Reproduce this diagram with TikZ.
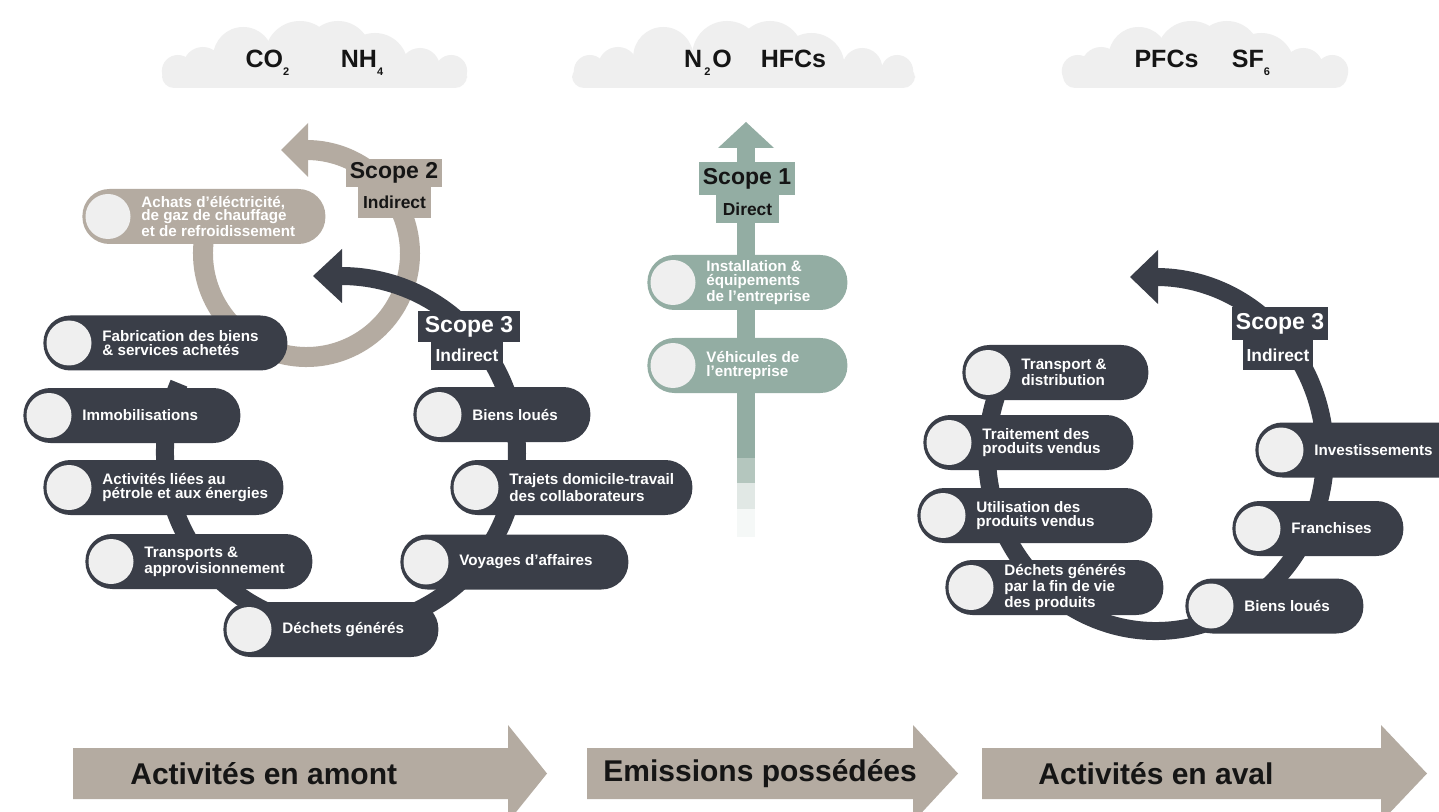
\documentclass[tikz,border=0pt]{standalone}
\usepackage{fontspec}
\setmainfont{Liberation Sans}
\usetikzlibrary{calc}
\definecolor{dk}{HTML}{3A3E48}
\definecolor{bg}{HTML}{B4ABA1}
\definecolor{gr}{HTML}{93ADA3}
\definecolor{lt}{HTML}{EFEFEF}
\definecolor{cl}{HTML}{EFEFEF}
\definecolor{ink}{HTML}{151515}
\newcommand\subs[1]{\raisebox{-4pt}{\fontsize{5.5pt}{6pt}\selectfont #1}}
\tikzset{
  pillbox/.style={rectangle, rounded corners=13.5pt, minimum height=27.5pt, inner sep=0pt},
  pilldot/.style={circle, fill=lt, minimum size=22.5pt, inner sep=0pt},
  pilltext/.style={text=white, align=left, inner sep=0pt, font=\bfseries\fontsize{7.6pt}{6.8pt}\selectfont},
  cloudtext/.style={text=ink, inner sep=0pt, anchor=base, font=\bfseries\fontsize{12.5pt}{14pt}\selectfont},
  scopebox/.style={inner sep=0pt, font=\bfseries\fontsize{11.5pt}{12pt}\selectfont},
  subbox/.style={inner sep=0pt, font=\bfseries\fontsize{8.7pt}{10pt}\selectfont},
  bigtext/.style={text=ink, inner sep=0pt, anchor=west, font=\bfseries\fontsize{15pt}{17pt}\selectfont},
}
\newcommand\pill[6]{%
  \node[pillbox, fill=#5, minimum width={(#3-#2)*0.5pt}, anchor=west] (#1) at (#2,-#4) {};
  \node[pilldot] (#1-dot) at (#2+26,-#4) {};
  \node[pilltext, anchor=west] (#1-txt) at (#2+59,-#4) {#6};
}
\newcommand\cloudshape[2]{%
  \begin{scope}
    \clip (#1-2,-88) rectangle (#2+2,0);
    \foreach \f/\yy/\r in {0.052/71/16, 0.134/67/20, 0.266/57/30, 0.452/56/35, 0.577/54/33, 0.698/66/33, 0.846/68/20, 0.948/71/16}{
      \fill[cl] ({#1+\f*(#2-#1)},-\yy) circle[radius=\r];
    }
  \end{scope}
  \fill[cl, rounded corners=6pt] (#1,-88) rectangle (#2,-66);
}
\begin{document}
\begin{tikzpicture}[x=0.5pt,y=0.5pt]
\useasboundingbox (0,0) rectangle (1439,-812);
\fill[white] (0,0) rectangle (1439,-812);
\clip (0,0) rectangle (1439,-812);

% clouds
\cloudshape{162}{467}
\cloudshape{572}{915}
\cloudshape{1063}{1347}
\node[cloudtext] (co2) at (267.5,-68) {CO\subs{2}};
\node[cloudtext] (nh4) at (362,-68) {NH\subs{4}};
\node[cloudtext] (n2o) at (708,-68) {N\kern1pt\subs{2}\kern1pt O};
\node[cloudtext] (hfc) at (793.5,-68) {HFCs};
\node[cloudtext] (pfc) at (1166.5,-68) {PFCs};
\node[cloudtext] (sf6) at (1251,-68) {SF\subs{6}};

% scope 2 (beige ring)
\draw[bg, line width=10pt] (306.5,-253.5) ++(165:103.5) arc[start angle=165, end angle=450, radius=103.5];
\fill[bg] (308,-123) -- (281,-150) -- (308,-177) -- cycle;
\pill{achats}{82}{325}{216.5}{bg}{Achats d’éléctricité,\\de gaz de chauffage\\et de refroidissement}
\node[scopebox, fill=bg, text=ink, minimum width=48pt, minimum height=14pt] (sc2) at (394,-173) {Scope 2};
\node[subbox, fill=bg, text=ink, minimum width=36.5pt, minimum height=15.5pt] (ind2) at (394.5,-202.5) {Indirect};

% scope 3 upstream (dark ring)
\draw[dk, line width=9pt] (341,-452) ++(157:176) arc[start angle=157, end angle=450, radius=176];
\fill[dk] (342,-249) -- (313,-276) -- (342,-303) -- cycle;
\pill{fab}{43}{287}{343}{dk}{Fabrication des biens\\\& services achetés}
\pill{immo}{23}{240}{415.5}{dk}{Immobilisations}
\pill{petrole}{43}{283}{487.5}{dk}{Activités liées au\\pétrole et aux énergies}
\pill{transp}{85}{312}{561.5}{dk}{Transports \&\\approvisionnement}
\pill{dechl}{223}{438}{629.5}{dk}{Déchets générés}
\pill{biensl}{413}{590}{414.5}{dk}{Biens loués}
\pill{trajets}{450}{692}{487.5}{dk}{Trajets domicile-travail\\des collaborateurs}
\pill{voyages}{400}{628}{562}{dk}{Voyages d’affaires}
\node[scopebox, fill=dk, text=white, minimum width=51pt, minimum height=15.5pt] (sc3l) at (469,-326.5) {Scope 3};
\node[subbox, fill=dk, text=white, minimum width=36pt, minimum height=14.5pt] (ind3l) at (467,-355.5) {Indirect};

% scope 1 (green)
\draw[gr, line width=9pt] (746,-147) -- (746,-458);
\draw[gr!70, line width=9pt] (746,-458) -- (746,-483);
\draw[gr!28, line width=9pt] (746,-483) -- (746,-509);
\draw[gr!9, line width=9pt] (746,-509) -- (746,-537);
\fill[gr] (718,-148) -- (746,-122) -- (774,-148) -- cycle;
\node[scopebox, fill=gr, text=ink, minimum width=48pt, minimum height=16.5pt] (sc1) at (747,-178.5) {Scope 1};
\node[subbox, fill=gr, text=ink, minimum width=31.5pt, minimum height=14pt] (dir1) at (747.5,-209) {Direct};
\pill{install}{647}{847}{282.5}{gr}{Installation \&\\équipements\\de l’entreprise}
\pill{vehic}{647}{847}{365.5}{gr}{Véhicules de\\l’entreprise}

% scope 3 downstream (dark ring)
\draw[dk, line width=9pt] (1156,-454) ++(153:169 and 177) arc[start angle=153, end angle=450, x radius=169, y radius=177];
\fill[dk] (1158,-250) -- (1130,-277) -- (1158,-304) -- cycle;
\pill{transd}{962}{1148}{372.5}{dk}{Transport \&\\distribution}
\pill{traite}{923}{1133}{442.5}{dk}{Traitement des\\produits vendus}
\pill{util}{917}{1152}{515.5}{dk}{Utilisation des\\produits vendus}
\pill{dechr}{945}{1163}{587.5}{dk}{Déchets générés\\par la fin de vie\\des produits}
\pill{invest}{1255}{1480}{450}{dk}{Investissements}
\pill{franch}{1232}{1403}{528.5}{dk}{Franchises}
\pill{biensr}{1185}{1363}{606}{dk}{Biens loués}
\node[scopebox, fill=dk, text=white, minimum width=48pt, minimum height=16.5pt] (sc3r) at (1280,-323.5) {Scope 3};
\node[subbox, fill=dk, text=white, minimum width=35pt, minimum height=15pt] (ind3r) at (1278,-355) {Indirect};

% bottom arrows
\fill[bg] (73,-748) -- (508,-748) -- (508,-725) -- (547,-773.5) -- (508,-822) -- (508,-799) -- (73,-799) -- cycle;
\fill[bg] (587,-748) -- (913,-748) -- (913,-725) -- (958,-773.5) -- (913,-822) -- (913,-799) -- (587,-799) -- cycle;
\fill[bg] (982,-748) -- (1381,-748) -- (1381,-725) -- (1427,-773.5) -- (1381,-822) -- (1381,-799) -- (982,-799) -- cycle;
\node[bigtext] (amont) at (130,-774) {Activités en amont};
\node[bigtext] (poss) at (603,-774) {Emissions possédées};
\node[bigtext] (aval) at (1038,-774) {Activités en aval};
\end{tikzpicture}
\end{document}
